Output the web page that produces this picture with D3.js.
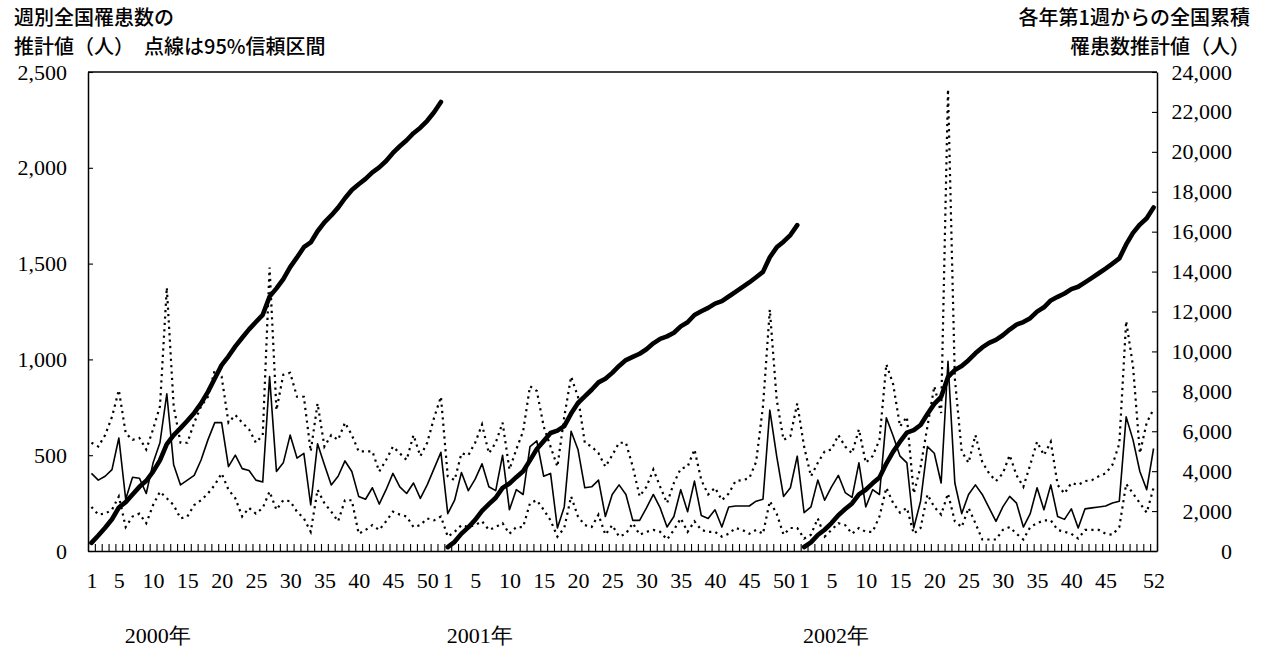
<!DOCTYPE html>
<html lang="ja">
<head>
<meta charset="utf-8">
<script src="https://cdn.jsdelivr.net/npm/d3@7"></script>
<style>
  html, body { margin: 0; padding: 0; background: #fff; }
  svg { display: block; }
  .num { font-family: "Liberation Serif", "Times New Roman", serif; font-size: 22px; fill: #000; }
  .ttl { font-family: "Noto Sans CJK JP", sans-serif; font-size: 20px; font-weight: 500; fill: #000; }
</style>
</head>
<body>
<svg id="chart" width="1263" height="647"></svg>
<script>
// Weekly national estimate of patients (people), by year, weeks 1-52
const years = ["2000", "2001", "2002"];

const est2000 = [405,370,390,425,590,270,385,380,300,460,
                 565,820,450,345,370,395,475,580,670,670,
                 440,500,430,420,370,360,910,415,460,605,
                 485,510,240,560,450,345,390,470,415,285,
                 270,330,245,320,405,335,300,355,275,345,
                 430,515];
const est2001 = [195,265,410,315,375,455,335,315,500,215,
                 320,295,545,575,390,405,120,230,625,530,
                 330,335,370,180,295,345,295,160,160,225,
                 295,225,125,180,320,205,365,185,170,215,
                 125,230,235,235,235,260,270,735,495,285,
                 330,495];
const est2002 = [200,230,370,265,335,395,305,280,460,230,
                 320,295,695,600,495,460,120,260,545,510,
                 355,990,355,195,295,345,295,225,155,230,
                 285,250,125,195,330,215,345,180,165,220,
                 120,220,225,230,235,250,260,700,580,415,
                 320,535];

// Upper bound of the 95% confidence interval
const upper2000 = [565,545,605,700,840,615,580,590,530,635,
                   755,1375,755,565,565,670,755,805,945,910,
                   670,710,670,635,565,605,1480,735,920,930,
                   805,805,520,770,545,605,580,670,605,520,
                   520,520,415,475,545,510,475,605,495,565,
                   695,805];
const upper2001 = [390,370,510,500,565,660,510,565,670,425,
                   530,625,860,835,650,545,440,700,910,805,
                   565,545,510,440,500,565,565,440,285,335,
                   425,335,250,355,430,440,530,370,295,330,
                   265,300,365,370,380,465,755,1260,790,580,
                   600,770];
const upper2002 = [545,390,460,520,530,605,545,510,635,460,
                   495,580,975,870,650,700,300,440,650,860,
                   720,2410,900,520,460,605,465,405,365,405,
                   500,395,335,450,570,500,570,345,300,355,
                   345,365,370,390,405,450,560,1200,965,510,
                   670,740];

// Lower bound of the 95% confidence interval
const lower2000 = [230,190,195,215,285,125,180,195,145,240,
                   310,275,240,170,180,240,265,300,345,405,
                   320,275,180,225,195,225,310,215,265,260,
                   205,170,100,320,250,205,155,265,265,90,
                   110,135,110,155,205,190,180,125,135,170,
                   160,180];
const lower2001 = [75,100,135,125,135,155,110,125,145,90,
                   125,125,250,265,215,160,75,120,285,180,
                   135,125,190,85,135,75,90,145,85,100,
                   110,100,60,110,170,100,155,110,100,100,
                   75,90,120,110,90,110,90,260,195,85,
                   120,120];
const lower2002 = [65,85,170,75,110,145,135,90,120,100,
                   100,180,330,250,200,225,90,120,295,230,
                   190,300,155,125,225,145,60,60,60,110,
                   125,90,60,125,145,160,160,110,100,90,
                   65,110,110,110,90,85,125,350,300,250,
                   200,330];

// Axis ticks and week labels
const leftTicks  = [0, 500, 1000, 1500, 2000, 2500];
const rightTicks = [0, 2000, 4000, 6000, 8000, 10000, 12000, 14000, 16000, 18000, 20000, 22000, 24000];
const weekLabels2000 = [1, 5, 10, 15, 20, 25, 30, 35, 40, 45, 50];
const weekLabels2001 = [1, 5, 10, 15, 20, 25, 30, 35, 40, 45, 50];
const weekLabels2002 = [1, 5, 10, 15, 20, 25, 30, 35, 40, 45, 52];
const weeksPerYear = 52;

// ---- layout ----
const margin = { left: 88, right: 1157, top: 72, bottom: 551 };
const yearLabelShift = [5, 0, 0];   // in weeks, from each year's week 1

const estAll   = [].concat(est2000, est2001, est2002);
const upperAll = [].concat(upper2000, upper2001, upper2002);
const lowerAll = [].concat(lower2000, lower2001, lower2002);
const estByYear = [est2000, est2001, est2002];
const weekLabelsByYear = [weekLabels2000, weekLabels2001, weekLabels2002];
const nWeeks = estAll.length;

const svg = d3.select("#chart");

const x = d3.scaleLinear().domain([-0.5, nWeeks - 0.5]).range([margin.left, margin.right]);
const yL = d3.scaleLinear().domain([0, 2500]).range([margin.bottom, margin.top]);
const yR = d3.scaleLinear().domain([0, 24000]).range([margin.bottom, margin.top]);

// frame top edge
svg.append("line")
  .attr("x1", margin.left).attr("x2", margin.right)
  .attr("y1", margin.top).attr("y2", margin.top)
  .attr("stroke", "#000").attr("stroke-width", 1.5);

// confidence interval (dotted)
const weeklyLine = d3.line().x((d, i) => x(i)).y(d => yL(d));
[upperAll, lowerAll].forEach(series => {
  svg.append("path")
    .attr("d", weeklyLine(series))
    .attr("fill", "none")
    .attr("stroke", "#000")
    .attr("stroke-width", 2.2)
    .attr("stroke-dasharray", "2.2,4.2");
});

// weekly estimate (thin solid)
svg.append("path")
  .attr("d", weeklyLine(estAll))
  .attr("fill", "none")
  .attr("stroke", "#000")
  .attr("stroke-width", 1.6)
  .attr("stroke-linejoin", "round");

// cumulative from week 1 of each year (thick)
estByYear.forEach((vals, k) => {
  const cum = Array.from(d3.cumsum(vals));
  const line = d3.line().x((d, i) => x(k * weeksPerYear + i)).y(d => yR(d));
  svg.append("path")
    .attr("d", line(cum))
    .attr("fill", "none")
    .attr("stroke", "#000")
    .attr("stroke-width", 4.6)
    .attr("stroke-linejoin", "round")
    .attr("stroke-linecap", "round");
});

// left axis
const gL = svg.append("g").attr("transform", `translate(${margin.left},0)`)
  .call(d3.axisLeft(yL).tickValues(leftTicks).tickSizeInner(-5).tickSizeOuter(0)
        .tickPadding(21).tickFormat(d3.format(",")));

// right axis
const gR = svg.append("g").attr("transform", `translate(${margin.right},0)`)
  .call(d3.axisRight(yR).tickValues(rightTicks).tickSizeInner(-5).tickSizeOuter(0)
        .tickPadding(75).tickFormat(d3.format(",")));
gR.selectAll("text").attr("text-anchor", "end");

// bottom axis: one tick per week boundary, pointing inward
const boundaries = d3.range(nWeeks + 1).map(i => i - 0.5);
svg.append("g").attr("transform", `translate(0,${margin.bottom})`)
  .call(d3.axisBottom(x).tickValues(boundaries).tickSizeInner(-7).tickSizeOuter(0).tickFormat(""));

// week number labels
const labelIdx = [], labelText = new Map();
weekLabelsByYear.forEach((weeks, k) => weeks.forEach(w => {
  const idx = k * weeksPerYear + (w - 1);
  labelIdx.push(idx);
  labelText.set(idx, String(w));
}));
const gX = svg.append("g").attr("transform", `translate(0,${margin.bottom})`)
  .call(d3.axisBottom(x).tickValues(labelIdx).tickSize(0).tickPadding(21)
        .tickFormat(d => labelText.get(d)));
gX.select(".domain").remove();

[gL, gR, gX].forEach(g => {
  g.selectAll("text").attr("class", "num").attr("font-family", null).attr("font-size", null);
  g.attr("font-family", null).attr("font-size", null);
});
svg.selectAll(".domain").attr("stroke", "#000").attr("stroke-width", 1.5);
svg.selectAll(".tick line").attr("stroke", "#000").attr("stroke-width", 1.1);

// year labels
years.forEach((yr, k) => {
  svg.append("text")
    .attr("class", "num")
    .attr("x", x(k * weeksPerYear + yearLabelShift[k]) - 1)
    .attr("y", 643)
    .text(yr + "年");
});

// axis titles
svg.append("text").attr("class", "ttl").attr("x", 14).attr("y", 25).text("週別全国罹患数の");
svg.append("text").attr("class", "ttl").attr("x", 14).attr("y", 54).text("推計値（人）　点線は95%信頼区間");
svg.append("text").attr("class", "ttl").attr("x", 1250).attr("y", 25).attr("text-anchor", "end").text("各年第1週からの全国累積");
svg.append("text").attr("class", "ttl").attr("x", 1250).attr("y", 54).attr("text-anchor", "end").text("罹患数推計値（人）");
</script>
</body>
</html>
